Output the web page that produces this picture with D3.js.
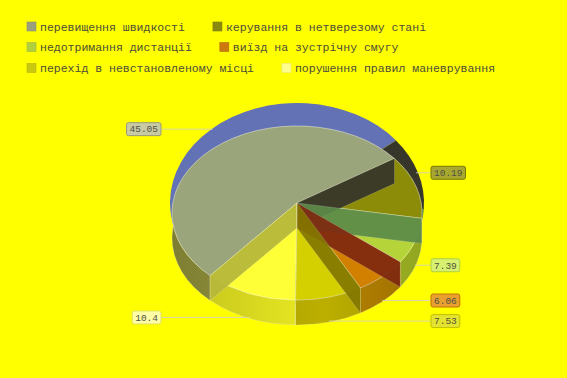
<!DOCTYPE html>
<html>
<head>
<meta charset="utf-8">
<script src="https://cdn.jsdelivr.net/npm/d3@7"></script>
<style>
  body { margin: 0; background: #ffff00; }
  svg { display: block; }
</style>
</head>
<body>
<script>
// categories and values
var categories = ['перевищення швидкості', 'керування в нетверезому стані', 'недотримання дистанції',
                  'виїзд на зустрічну смугу', 'перехід в невстановленому місці', 'порушення правил маневрування']
var values = [45.05, 10.19, 7.39, 6.06, 7.53, 10.4]
var valueLabels = ['45.05', '10.19', '7.39', '6.06', '7.53', '10.4']

// colours: top face, outer wall, inner (radial) wall, back rim, legend swatch, label box
var faceColors = ['#9aa57c', '#8c8c08', '#b4d43a', '#d28000', '#d4d000', '#ffff38']
var wallColors = ['#8f8f3a', '#6a6a10', '#9cb022', '#a87800', '#aca000', '#d8d820']
var bandColors = ['#b6b63c', '#34342a', '#5b8a48', '#7e2810', '#837600', '#c8c020']
var backColors = ['#6272b5', '#36362a', '#4f7a3a', '#6a2a10', '#807400', '#b5b540']
var swatchColors = ['#9aa07e', '#8a8a10', '#b0d040', '#cc7a10', '#c8c810', '#ffff90']
var boxFill = ['#c8caa4', '#a8a830', '#d8f070', '#e8a030', '#e4e430', '#ffffa8']
var boxStroke = ['#9a9a7a', '#7a7a00', '#b0d040', '#c87000', '#c0c000', '#e0e060']

var W = 567, H = 378
var svg = d3.select('body').append('svg').attr('width', W).attr('height', H)
svg.append('rect').attr('width', W).attr('height', H).attr('fill', '#ffff00')

// ---- legend (flows left to right, 2 items per row)
var legend = svg.append('g').attr('font-family', '"Liberation Mono", monospace').attr('font-size', '11.5px')
var rowTops = [22, 42.5, 63.5]
categories.forEach(function(c, i) {
  var row = Math.floor(i / 2)
  var x = 27
  if (i % 2 == 1) {
    var prev = legend.select('.lt' + (i - 1)).node()
    x = 40 + prev.getComputedTextLength() + 28
  }
  legend.append('rect').attr('x', x).attr('y', rowTops[row]).attr('width', 9).attr('height', 9)
    .attr('fill', swatchColors[i]).attr('stroke', d3.color(swatchColors[i]).darker(0.3)).attr('stroke-width', 0.6)
  legend.append('text').attr('class', 'lt' + i).attr('x', x + 13).attr('y', rowTops[row] + 8.5)
    .attr('fill', '#4d4d3a').text(c)
})

// ---- 3D-looking pie
var cx = 297, apexY = 203
var rx = 125, ry = 87, faceCy = 213, depth = 25
var backRx = 127, backRy = 100, backCy = 203

var pie = d3.pie().sort(null).value(d => d)
  .startAngle(224 * Math.PI / 180).endAngle(224 * Math.PI / 180 + 2 * Math.PI)
var arcs = pie(values).map(function(p, i) {
  return {i: i, t0: p.startAngle - Math.PI / 2, t1: p.endAngle - Math.PI / 2}
})

function pt(t, ecy, erx, ery) { return [cx + erx * Math.cos(t), ecy + ery * Math.sin(t)] }
function sector(a, ecy, erx, ery) {
  var p0 = pt(a.t0, ecy, erx, ery), p1 = pt(a.t1, ecy, erx, ery)
  var large = (a.t1 - a.t0) > Math.PI ? 1 : 0
  return `M${cx},${apexY}L${p0}A${erx},${ery} 0 ${large} 1 ${p1}Z`
}
function wall(a) {
  var p0 = pt(a.t0, faceCy, rx, ry), p1 = pt(a.t1, faceCy, rx, ry)
  var large = (a.t1 - a.t0) > Math.PI ? 1 : 0
  return `M${p0}A${rx},${ry} 0 ${large} 1 ${p1}L${p1[0]},${p1[1] + depth}` +
         `A${rx},${ry} 0 ${large} 0 ${p0[0]},${p0[1] + depth}Z`
}
function band(a) {
  var p = pt(a.t0, faceCy, rx, ry)
  return `M${cx},${apexY}L${p}L${p[0]},${p[1] + depth}L${cx},${apexY + depth}Z`
}

var defs = svg.append('defs')
arcs.forEach(function(a) {
  var g = defs.append('linearGradient').attr('id', 'wg' + a.i).attr('gradientUnits', 'userSpaceOnUse')
    .attr('x1', 170).attr('x2', 425).attr('y1', 0).attr('y2', 0)
  g.append('stop').attr('offset', 0).attr('stop-color', d3.color(wallColors[a.i]).darker(0.35))
  g.append('stop').attr('offset', 0.6).attr('stop-color', d3.color(wallColors[a.i]).brighter(0.25))
  g.append('stop').attr('offset', 1).attr('stop-color', d3.color(wallColors[a.i]).darker(0.2))
})

var pieG = svg.append('g')
pieG.selectAll('.back').data(arcs).join('path').attr('class', 'back')
  .attr('d', a => sector(a, backCy, backRx, backRy)).attr('fill', a => backColors[a.i])
pieG.selectAll('.wall').data(arcs).join('path').attr('class', 'wall')
  .attr('d', wall).attr('fill', a => 'url(#wg' + a.i + ')')
  .attr('stroke', 'rgba(255,255,255,0.35)').attr('stroke-width', 0.6)
pieG.selectAll('.face').data(arcs).join('path').attr('class', 'face')
  .attr('d', a => sector(a, faceCy, rx, ry)).attr('fill', a => faceColors[a.i])
  .attr('stroke', 'rgba(255,255,255,0.5)').attr('stroke-width', 0.7)
pieG.selectAll('.band').data(arcs).join('path').attr('class', 'band')
  .attr('d', band).attr('fill', a => bandColors[a.i]).attr('fill-opacity', 0.92)
  .attr('stroke', 'rgba(255,255,255,0.3)').attr('stroke-width', 0.5)

// ---- value labels: back slices sit on the upper rim, front ones on the lower rim
var lab = svg.append('g').attr('font-family', '"Liberation Mono", monospace').attr('font-size', '9.5px')
arcs.forEach(function(a) {
  var mid = (a.t0 + a.t1) / 2
  var s = Math.sin(mid)
  var y = s < 0 ? backCy + backRy * s : faceCy + depth + ry * s - 1
  var x0 = cx + rx * Math.cos(mid)
  var left = Math.cos(mid) < 0
  var w = valueLabels[a.i].length * 5.7 + 6, h = 13
  var bx = left ? 161 - w : 431
  lab.append('line').attr('x1', x0).attr('x2', left ? bx + w : bx).attr('y1', y).attr('y2', y)
    .attr('stroke', '#d8d8a8').attr('stroke-width', 1)
  lab.append('rect').attr('x', bx).attr('y', y - h / 2).attr('width', w).attr('height', h).attr('rx', 2)
    .attr('fill', boxFill[a.i]).attr('stroke', boxStroke[a.i]).attr('stroke-width', 1)
  lab.append('text').attr('x', bx + w / 2).attr('y', y + 3.3).attr('text-anchor', 'middle')
    .attr('fill', '#505040').text(valueLabels[a.i])
})
</script>
</body>
</html>
